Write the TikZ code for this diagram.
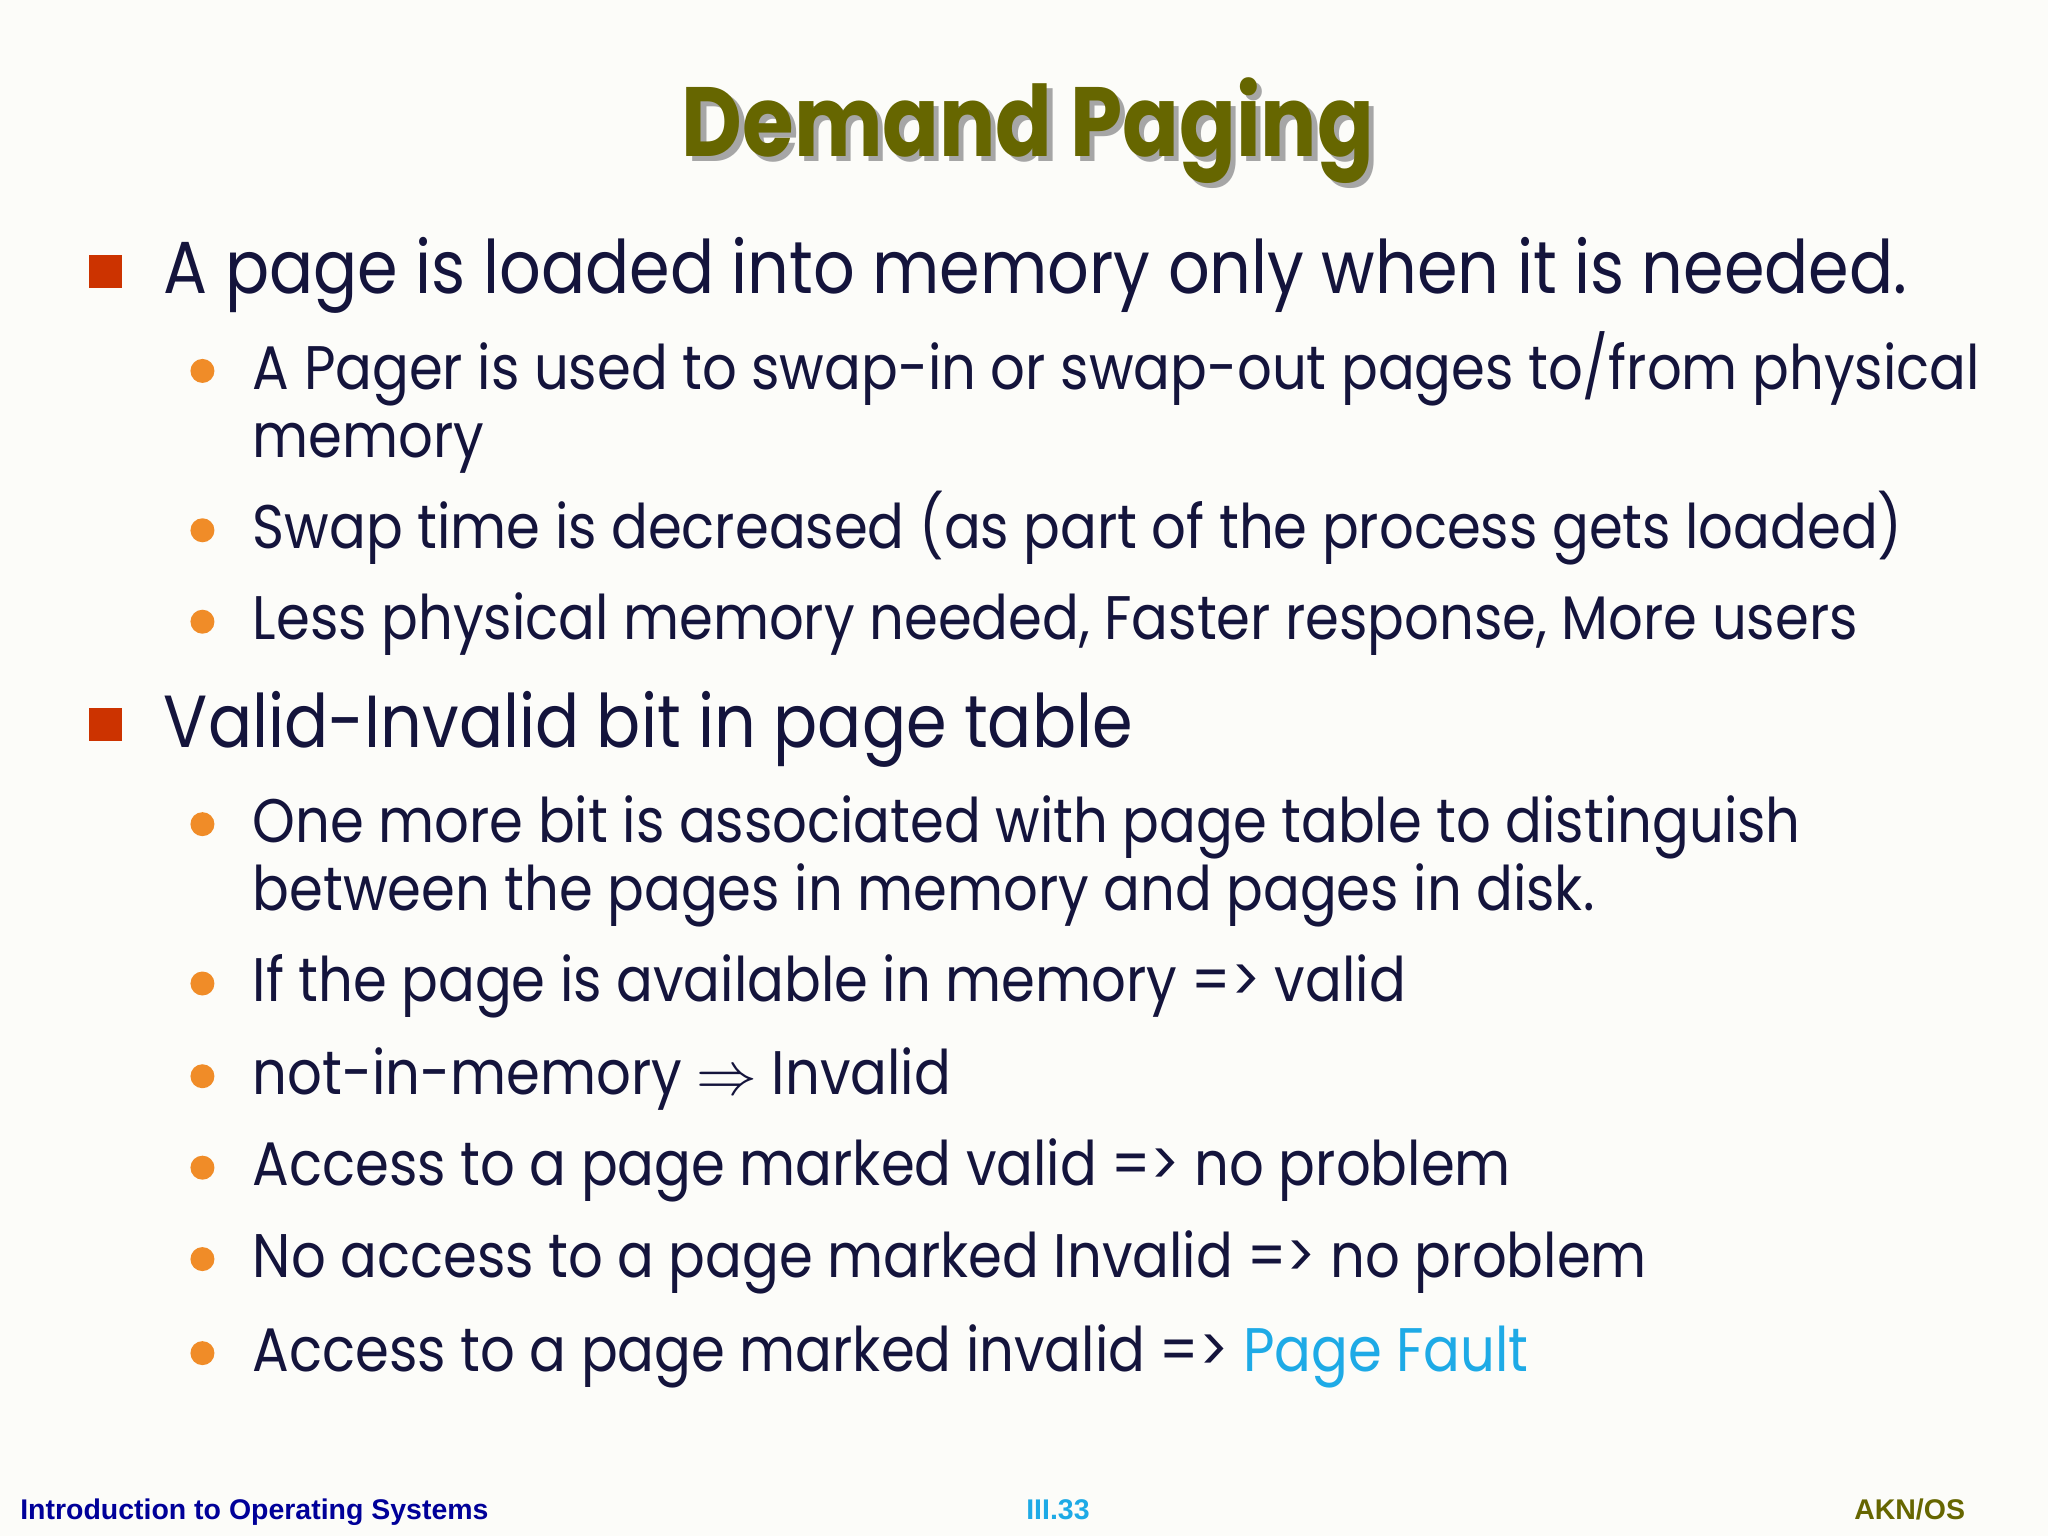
\documentclass[tikz,border=0pt]{standalone}
\usepackage{fontspec}
\setmainfont{Poppins}[FakeStretch=0.885]
\newfontfamily\titlefont{Poppins}[FakeStretch=0.85]
\newfontfamily\footfont{Liberation Sans}
\usepackage{amssymb}
\definecolor{olive}{RGB}{102,102,0}
\definecolor{txt}{RGB}{20,20,60}
\definecolor{sq}{RGB}{204,51,0}
\definecolor{dot}{RGB}{240,140,40}
\definecolor{pf}{RGB}{30,170,230}
\definecolor{navy}{RGB}{0,0,153}
\definecolor{bg}{RGB}{252,252,249}
\tikzset{x=0.01306cm,y=-0.01306cm,
 lvlone/.style={anchor=base west,font=\fontsize{21}{25}\selectfont,text=txt,inner sep=0},
 lvltwo/.style={anchor=base west,font=\fontsize{17.5}{21}\selectfont,text=txt,inner sep=0},
 sqb/.style={fill=sq,minimum size=0.33cm,inner sep=0},
 dotb/.style={circle,fill=dot,minimum size=0.24cm,inner sep=0},
 foot/.style={anchor=base,font=\footfont\bfseries\fontsize{8.1}{10}\selectfont,inner sep=0}}
\begin{document}
\begin{tikzpicture}
\fill[bg] (0,0) rectangle (1568,1176);
\useasboundingbox (0,0) rectangle (1568,1176);
\node[anchor=base,font=\titlefont\bfseries\fontsize{28}{32}\selectfont,text=black!35,inner sep=0] at (791,124) {Demand Paging};
\node[anchor=base,font=\titlefont\bfseries\fontsize{28}{32}\selectfont,text=olive,inner sep=0] (title) at (787,120) {Demand Paging};
\node[sqb] (s1) at (81,208) {};
\node[lvlone] (l1) at (125,225) {A page is loaded into memory only when it is needed.};
\node[dotb] (d1) at (155,284) {};
\node[lvltwo] (a1) at (193,298) {A Pager is used to swap-in or swap-out pages to/from physical};
\node[lvltwo] (a1b) at (193,350) {memory};
\node[dotb] (d2) at (155,406) {};
\node[lvltwo] (a2) at (193,420) {Swap time is decreased (as part of the process gets loaded)};
\node[dotb] (d3) at (155,476) {};
\node[lvltwo] (a3) at (193,490) {Less physical memory needed, Faster response, More users};
\node[sqb] (s2) at (81,555) {};
\node[lvlone] (l2) at (125,572) {Valid-Invalid bit in page table};
\node[dotb] (d4) at (155,631) {};
\node[lvltwo] (b1) at (193,645) {One more bit is associated with page table to distinguish};
\node[lvltwo] (b1b) at (193,697) {between the pages in memory and pages in disk.};
\node[dotb] (d5) at (155,753) {};
\node[lvltwo] (b2) at (193,767) {If the page is available in memory => valid};
\node[dotb] (d6) at (155,824) {};
\node[lvltwo] (b3) at (193,838) {not-in-memory $\Rightarrow$ Invalid};
\node[dotb] (d7) at (155,894) {};
\node[lvltwo] (b4) at (193,908) {Access to a page marked valid => no problem};
\node[dotb] (d8) at (155,964) {};
\node[lvltwo] (b5) at (193,978) {No access to a page marked Invalid => no problem};
\node[dotb] (d9) at (155,1036) {};
\node[lvltwo] (b6) at (193,1050) {Access to a page marked invalid => \textcolor{pf}{Page Fault}};
\node[foot,anchor=base west,text=navy] (f1) at (15,1163) {Introduction to Operating Systems};
\node[foot,text=pf] (f2) at (810,1163) {III.33};
\node[foot,anchor=base east,text=olive] (f3) at (1505,1163) {AKN/OS};
\end{tikzpicture}
\end{document}
